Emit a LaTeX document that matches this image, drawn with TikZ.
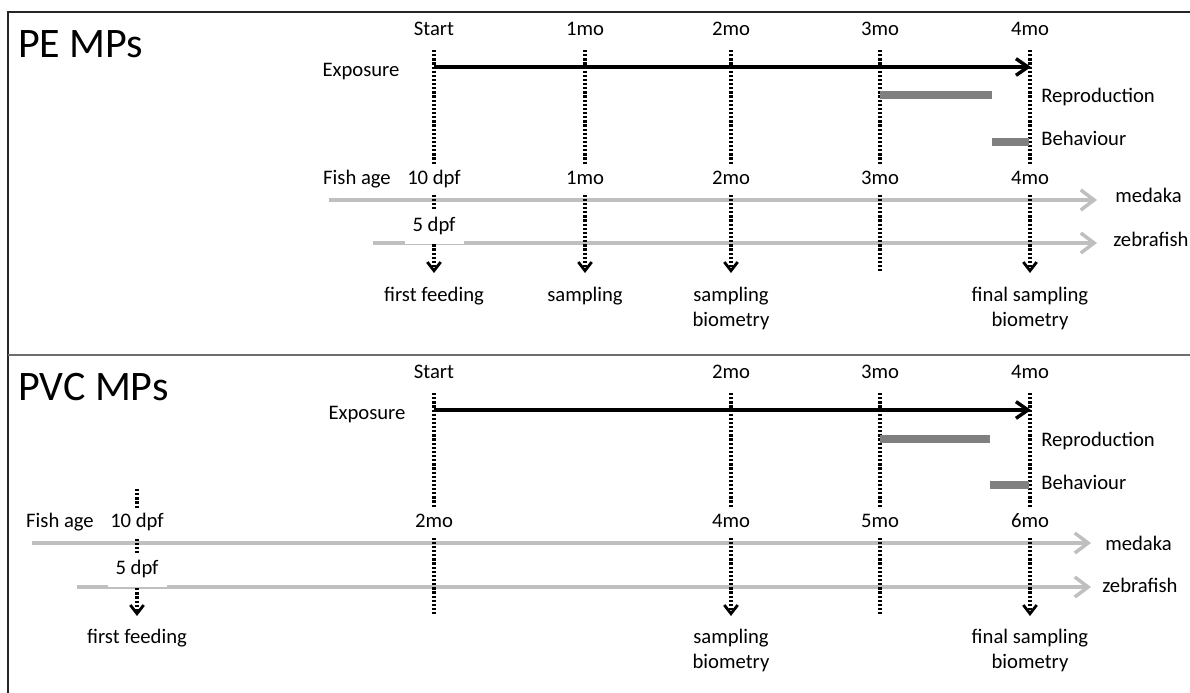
\documentclass[tikz,border=0pt]{standalone}
\usepackage{fontspec}
\setmainfont{Carlito}
\usetikzlibrary{arrows.meta}
\definecolor{agegray}{RGB}{191,191,191}
\definecolor{bargray}{RGB}{128,128,128}
\definecolor{framegray}{RGB}{110,110,110}
\begin{document}
\begin{tikzpicture}[x=0.75pt,y=-0.75pt,
  lbl/.style={font=\fontsize{15.5}{18.6}\selectfont, inner xsep=3pt, inner ysep=3.5pt,
              text height=11.2pt, text depth=3.8pt, fill=white},
  side/.style={font=\fontsize{15.5}{18.6}\selectfont, inner sep=0pt,
               text height=11.2pt, text depth=3.8pt, anchor=west},
  note/.style={font=\fontsize{15.5}{18.75}\selectfont, align=center, anchor=north, inner sep=0pt},
  paneltitle/.style={font=\fontsize{31.5}{38}\selectfont, anchor=base west, inner sep=0pt},
  tick/.style={line width=2.3pt, dash pattern=on 1.7pt off 1.4pt},
  tickarrow/.style={tick, -{Straight Barb[length=6.5pt,width=10pt,line width=2.1pt]}},
  exposure/.style={line width=2.6pt, -{Straight Barb[length=9pt,width=12.5pt,line width=2.6pt]}},
  ageline/.style={agegray, line width=3.4pt, -{Straight Barb[length=10pt,width=15pt,line width=2.6pt]}},
  bar/.style={bargray, line width=5.5pt},
]
\useasboundingbox (0,0) rectangle (1190,693);

% frame and panel divider
\draw[black!85, line width=1.4pt] (8,693) -- (8,12) -- (1190,12);
\draw[framegray, line width=1.6pt] (8,355) -- (1190,355);

% ================= PE panel =================
\node[paneltitle] (pe-title) at (18,57) {PE MPs};

% fish age axes
\coordinate (pe-med-a) at (329,200);
\coordinate (pe-med-b) at (1097,200);
\coordinate (pe-zeb-a) at (373,243);
\coordinate (pe-zeb-b) at (1097,243);
\draw[ageline] (pe-med-a) -- (pe-med-b);
\draw[ageline] (pe-zeb-a) -- (pe-zeb-b);

% time columns
\foreach \n/\x in {0/434,1/585,2/731,3/880,4/1030}{
  \coordinate (pe-t\n) at (\x,50);
  \coordinate (pe-b\n) at (\x,273);
}
\draw[tickarrow] (pe-t0) -- (pe-b0);
\draw[tickarrow] (pe-t1) -- (pe-b1);
\draw[tickarrow] (pe-t2) -- (pe-b2);
\draw[tick] (pe-t3) -- (pe-b3);
\draw[tickarrow] (pe-t4) -- (pe-b4);

% exposure window
\coordinate (pe-x0) at (434,67);
\coordinate (pe-x4) at (1031,67);
\draw[exposure] (pe-x0) -- (pe-x4);

% reproduction and behaviour windows
\coordinate (pe-r0) at (880,95);
\coordinate (pe-r1) at (992,95);
\coordinate (pe-h0) at (992,142);
\coordinate (pe-h1) at (1029,142);
\draw[bar] (pe-r0) -- (pe-r1);
\draw[bar] (pe-h0) -- (pe-h1);

% labels
\node[lbl] (pe-start) at (434,31) {Start};
\node[lbl] (pe-m1) at (585,31) {1mo};
\node[lbl] (pe-m2) at (731,31) {2mo};
\node[lbl] (pe-m3) at (880,31) {3mo};
\node[lbl] (pe-m4) at (1030,31) {4mo};
\node[lbl] (pe-exp) at (361,72) {Exposure};
\node[side] (pe-rep) at (1041,98) {Reproduction};
\node[side] (pe-beh) at (1041,141) {Behaviour};

\node[lbl] (pe-age) at (357,180) {Fish age};
\node[lbl] (pe-a0) at (434,180) {10 dpf};
\node[lbl] (pe-a1) at (585,180) {1mo};
\node[lbl] (pe-a2) at (731,180) {2mo};
\node[lbl] (pe-a3) at (880,180) {3mo};
\node[lbl] (pe-a4) at (1030,180) {4mo};
\node[lbl, inner xsep=6pt, inner ysep=5pt] (pe-z0) at (434,227) {5 dpf};
\node[side] (pe-med) at (1115,198) {medaka};
\node[side] (pe-zeb) at (1113,242) {zebrafish};

\node[note] (pe-n0) at (434,287) {first feeding};
\node[note] (pe-n1) at (585,287) {sampling};
\node[note] (pe-n2) at (731,287) {sampling\\biometry};
\node[note] (pe-n4) at (1030,287) {final sampling\\biometry};

% ================= PVC panel =================
\node[paneltitle] (pvc-title) at (18,400) {PVC MPs};

% fish age axes
\coordinate (pvc-med-a) at (32,543);
\coordinate (pvc-med-b) at (1091,543);
\coordinate (pvc-zeb-a) at (77,587);
\coordinate (pvc-zeb-b) at (1091,587);
\draw[ageline] (pvc-med-a) -- (pvc-med-b);
\draw[ageline] (pvc-zeb-a) -- (pvc-zeb-b);

% time columns
\coordinate (pvc-tf) at (137,489);
\coordinate (pvc-bf) at (137,616);
\foreach \n/\x in {0/434,2/731,3/880,4/1030}{
  \coordinate (pvc-t\n) at (\x,393);
  \coordinate (pvc-b\n) at (\x,616);
}
\draw[tickarrow] (pvc-tf) -- (pvc-bf);
\draw[tick] (pvc-t0) -- (pvc-b0);
\draw[tickarrow] (pvc-t2) -- (pvc-b2);
\draw[tick] (pvc-t3) -- (pvc-b3);
\draw[tickarrow] (pvc-t4) -- (pvc-b4);

% exposure window
\coordinate (pvc-x0) at (434,410);
\coordinate (pvc-x4) at (1031,410);
\draw[exposure] (pvc-x0) -- (pvc-x4);

% reproduction and behaviour windows
\coordinate (pvc-r0) at (880,439);
\coordinate (pvc-r1) at (990,439);
\coordinate (pvc-h0) at (990,485);
\coordinate (pvc-h1) at (1029,485);
\draw[bar] (pvc-r0) -- (pvc-r1);
\draw[bar] (pvc-h0) -- (pvc-h1);

% labels
\node[lbl] (pvc-start) at (434,374) {Start};
\node[lbl] (pvc-m2) at (731,374) {2mo};
\node[lbl] (pvc-m3) at (880,374) {3mo};
\node[lbl] (pvc-m4) at (1030,374) {4mo};
\node[lbl] (pvc-exp) at (367,415) {Exposure};
\node[side] (pvc-rep) at (1041,442) {Reproduction};
\node[side] (pvc-beh) at (1041,485) {Behaviour};

\node[lbl] (pvc-age) at (60,523) {Fish age};
\node[lbl] (pvc-a0) at (137,523) {10 dpf};
\node[lbl] (pvc-a1) at (434,523) {2mo};
\node[lbl] (pvc-a2) at (731,523) {4mo};
\node[lbl] (pvc-a3) at (880,523) {5mo};
\node[lbl] (pvc-a4) at (1030,523) {6mo};
\node[lbl, inner xsep=6pt, inner ysep=5pt] (pvc-z0) at (137,570) {5 dpf};
\node[side] (pvc-med) at (1105,546) {medaka};
\node[side] (pvc-zeb) at (1102,588) {zebrafish};

\node[note] (pvc-n0) at (137,629) {first feeding};
\node[note] (pvc-n2) at (731,629) {sampling\\biometry};
\node[note] (pvc-n4) at (1030,629) {final sampling\\biometry};
\end{tikzpicture}
\end{document}
